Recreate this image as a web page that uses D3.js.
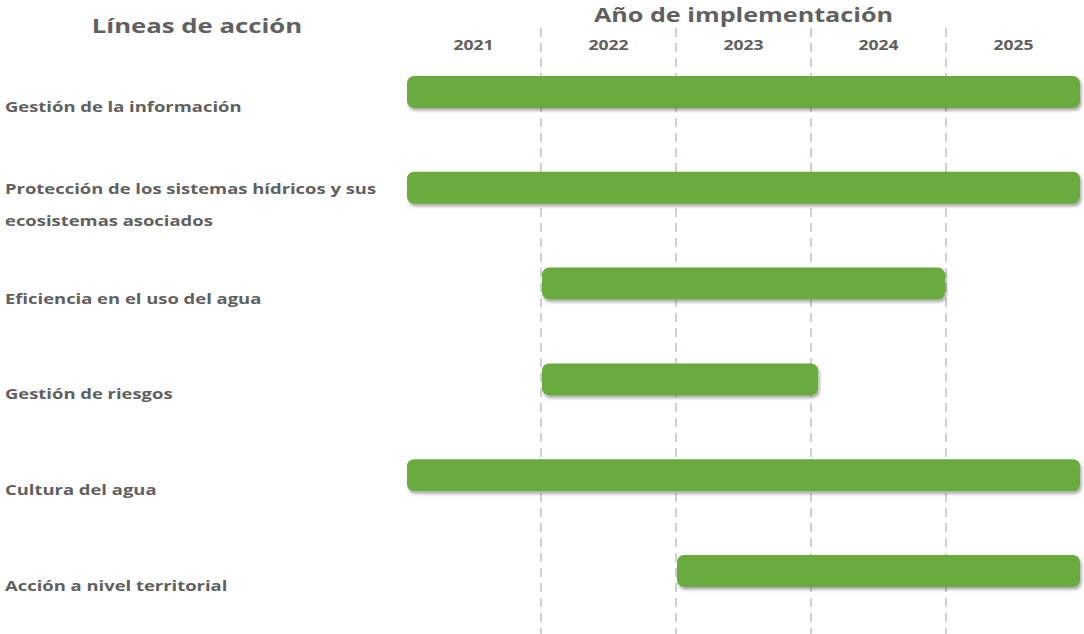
<!DOCTYPE html>
<html><head><meta charset="utf-8">
<script src="https://cdn.jsdelivr.net/npm/d3@7"></script>
<style>
html,body{margin:0;padding:0;background:#fff;}
text{font-family:"Open Sans",sans-serif;font-weight:bold;fill:#606060;}
</style></head>
<body><svg id="c" width="1084" height="634"></svg>
<script>
const categories = [
  ["Gestión de la información"],
  ["Protección de los sistemas hídricos y sus","ecosistemas asociados"],
  ["Eficiencia en el uso del agua"],
  ["Gestión de riesgos"],
  ["Cultura del agua"],
  ["Acción a nivel territorial"]
];
const startYears = [2021, 2021, 2022, 2022, 2021, 2023];
const endYears   = [2026, 2026, 2025, 2024.06, 2026, 2026];
const yearTicks  = [2021, 2022, 2023, 2024, 2025];
const titleLeft = "Líneas de acción";
const titleRight = "Año de implementación";

const svg = d3.select("#c");
const x = d3.scaleLinear().domain([2021, 2026]).range([406, 1081]);
const y = d3.scaleBand().domain(d3.range(categories.length)).range([76, 587]).paddingInner(0.666).paddingOuter(0);

function stretch(sel, k){
  sel.each(function(){
    const n = this.getComputedTextLength();
    d3.select(this).attr("textLength", n*k).attr("lengthAdjust","spacingAndGlyphs");
  });
}

const defs = svg.append("defs");
const f = defs.append("filter").attr("id","sh").attr("x","-5%").attr("y","-30%").attr("width","110%").attr("height","170%");
f.append("feDropShadow").attr("dx",1.5).attr("dy",2.5).attr("stdDeviation",1.8).attr("flood-color","#000").attr("flood-opacity",0.35);

// gridlines
svg.append("g").selectAll("line").data(yearTicks.slice(1)).join("line")
  .attr("x1", d=>x(d)).attr("x2", d=>x(d)).attr("y1", 28).attr("y2", 634)
  .attr("stroke","#d0d0d0").attr("stroke-width",2).attr("stroke-dasharray","9,6");

// year labels
svg.append("g").selectAll("text").data(yearTicks).join("text")
  .attr("x", d=>x(d+0.5)).attr("y", 50).attr("text-anchor","middle")
  .style("font-size","13.5px").text(d=>d).call(stretch, 1.3);

svg.append("text").attr("x", x(2023.5)).attr("y", 22).attr("text-anchor","middle")
  .style("font-size","19.5px").text(titleRight).call(stretch, 1.29);
svg.append("text").attr("x", 197).attr("y", 33).attr("text-anchor","middle")
  .style("font-size","19.5px").text(titleLeft).call(stretch, 1.32);

// bars
svg.append("g").selectAll("rect").data(categories).join("rect")
  .attr("x", (d,i)=>x(startYears[i])+1).attr("width",(d,i)=>x(endYears[i])-x(startYears[i])-2)
  .attr("y", (d,i)=>y(i)).attr("height", y.bandwidth())
  .attr("rx",7).attr("fill","#6aab3f").attr("filter","url(#sh)");

// labels
const lg = svg.append("g");
categories.forEach((lines,i)=>{
  lines.forEach((ln,j)=>{
    const base = lines.length>1 ? y(i)+22 : y(i)+36;
    lg.append("text").attr("x",5).attr("y", base + j*32)
      .style("font-size","14.5px").text(ln).call(stretch, 1.27);
  });
});
</script></body></html>
